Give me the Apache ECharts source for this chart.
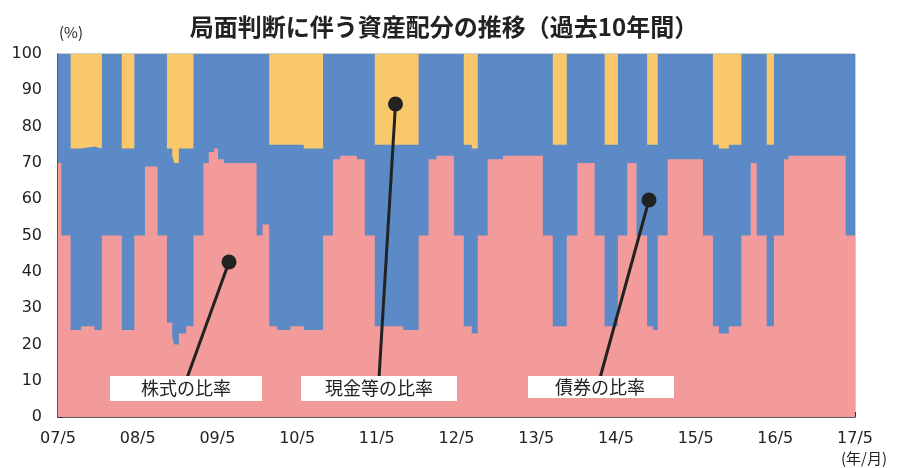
<!DOCTYPE html>
<html>
<head>
<meta charset="utf-8">
<script src="https://cdn.jsdelivr.net/npm/echarts@6/dist/echarts.min.js"></script>
<style>
html,body{margin:0;padding:0;background:#fff;}
#chart{width:897px;height:468px;}
</style>
</head>
<body>
<div id="chart"></div>
<script>
// months elapsed since 2007/5 (breakpoints; each value holds until the next breakpoint)
var months = [0, 0.5, 1.9, 3.5, 5.5, 6.6, 9.6, 11.5, 13.1, 15.0, 16.4, 17.2, 17.5, 18.2, 19.3, 20.4,
  21.9, 22.7, 23.5, 24.1, 25.0, 29.9, 30.8, 31.8, 33.0, 35.0, 37.0, 39.9, 41.4, 42.5, 45.0, 46.2,
  47.7, 52.0, 54.3, 55.8, 57.0, 59.6, 61.1, 62.3, 63.2, 64.7, 67.0, 71.0, 73.0, 74.5, 76.6, 78.2,
  80.8, 82.3, 84.3, 85.7, 87.1, 88.7, 89.6, 90.3, 91.8, 97.1, 98.6, 99.5, 101.0, 102.9, 104.3,
  105.2, 106.7, 107.8, 109.3, 110.0, 118.6, 120];
var stock = [70, 50, 24, 25, 24, 50, 24, 50, 69, 50, 26, 22, 20, 23, 25, 50,
  70, 73, 74, 71, 70, 50, 53, 25, 24, 25, 24, 50, 71, 72, 71, 50,
  25, 24, 50, 71, 72, 50, 25, 23, 50, 71, 72, 72, 50, 25, 50, 70,
  50, 25, 50, 70, 50, 25, 24, 50, 71, 50, 25, 23, 25, 50, 70,
  50, 25, 50, 71, 72, 50, 50];
var bond = [30, 50, 50, 49.5, 50, 50, 50, 50, 31, 50, 48, 50, 50, 51, 49, 50,
  30, 27, 26, 29, 30, 50, 47, 50, 51, 50, 50, 50, 29, 28, 29, 50,
  50, 51, 50, 29, 28, 50, 50, 51, 50, 29, 28, 28, 50, 50, 50, 30,
  50, 50, 50, 30, 50, 50, 51, 50, 29, 50, 50, 51, 50, 50, 30,
  50, 50, 50, 29, 28, 50, 50];
var cash = [0, 0, 26, 25.5, 26, 0, 26, 0, 0, 0, 26, 28, 30, 26, 26, 0,
  0, 0, 0, 0, 0, 0, 0, 25, 25, 25, 26, 0, 0, 0, 0, 0,
  25, 25, 0, 0, 0, 0, 25, 26, 0, 0, 0, 0, 0, 25, 0, 0,
  0, 25, 0, 0, 0, 25, 25, 0, 0, 0, 25, 26, 25, 0, 0,
  0, 25, 0, 0, 0, 0, 0];
var xTickLabels = ['07/5','08/5','09/5','10/5','11/5','12/5','13/5','14/5','15/5','16/5','17/5'];
var seriesNames = ['株式', '債券', '現金等'];

// cumulative tops (stock, stock+bond, stock+bond+cash)
function cum(level){
  return months.map(function(m, i){
    var v = stock[i];
    if (level > 0) v += bond[i];
    if (level > 1) v += cash[i];
    return [m, v];
  });
}

var colors = ['#F39A9A', '#5B8AC7', '#F8C86B'];
var chart = echarts.init(document.getElementById('chart'), null, {renderer:'canvas'});
var numFont = '"DejaVu Sans", Verdana, sans-serif';
var jpFont = '"Noto Sans CJK JP", sans-serif';

function mkSeries(name, data, color, z){
  return {
    name: name, type: 'line', step: 'end', z: z,
    data: data, showSymbol: false, symbol: 'none',
    lineStyle: {width: 0}, areaStyle: {color: color, opacity: 1, origin: 'start'},
    itemStyle: {color: color}, silent: true, animation: false
  };
}

chart.setOption({
  animation: false,
  title: {
    text: '局面判断に伴う資産配分の推移（過去10年間）',
    left: 439, top: 10, textAlign: 'center',
    textStyle: {fontFamily: jpFont, fontSize: 24, fontWeight: 'bold', color: '#222'}
  },
  grid: {left: 58, right: 42, top: 54, bottom: 51, show: true, borderColor: '#999', borderWidth: 1},
  xAxis: {
    type: 'value', min: 0, max: 120, interval: 12,
    axisLine: {show: true, lineStyle: {color: '#333', width: 1.5}},
    axisTick: {show: true, inside: true, length: 5, lineStyle: {color: '#333'}},
    splitLine: {show: false},
    axisLabel: {
      margin: 14, color: '#222', fontSize: 16, fontFamily: numFont,
      formatter: function(v){ return xTickLabels[Math.round(v/12)]; }
    }
  },
  yAxis: {
    type: 'value', min: 0, max: 100, interval: 10,
    axisLine: {show: true, lineStyle: {color: '#333', width: 1.5}},
    axisTick: {show: true, inside: true, length: 5, lineStyle: {color: '#333'}},
    splitLine: {show: false},
    axisLabel: {margin: 16, color: '#222', fontSize: 16, fontFamily: numFont}
  },
  series: [
    mkSeries(seriesNames[2], cum(2), colors[2], 2),
    mkSeries(seriesNames[1], cum(1), colors[1], 3),
    mkSeries(seriesNames[0], cum(0), colors[0], 4)
  ],
  graphic: [
    {type: 'text', left: 59, top: 25, z: 100, style: {text: '(%)', font: '15px ' + jpFont, fill: '#222'}},
    {type: 'text', left: 841, top: 451, z: 100, style: {text: '(年/月)', font: '15px ' + jpFont, fill: '#222'}},
    // callouts
    {type: 'line', z: 100, shape: {x1: 229, y1: 262, x2: 187, y2: 378}, style: {stroke: '#222', lineWidth: 3}},
    {type: 'circle', z: 101, shape: {cx: 229, cy: 262, r: 7.5}, style: {fill: '#222'}},
    {type: 'line', z: 100, shape: {x1: 395.5, y1: 104, x2: 379, y2: 378}, style: {stroke: '#222', lineWidth: 3}},
    {type: 'circle', z: 101, shape: {cx: 395.5, cy: 104, r: 7.5}, style: {fill: '#222'}},
    {type: 'line', z: 100, shape: {x1: 649, y1: 200, x2: 600, y2: 378}, style: {stroke: '#222', lineWidth: 3}},
    {type: 'circle', z: 101, shape: {cx: 649, cy: 200, r: 7.5}, style: {fill: '#222'}},
    // label boxes
    {type: 'rect', z: 102, shape: {x: 110, y: 376, width: 152, height: 25}, style: {fill: '#fff'}},
    {type: 'text', z: 103, x: 186, y: 388.5, style: {text: '株式の比率', font: '18px ' + jpFont, fill: '#222', textAlign: 'center', textVerticalAlign: 'middle'}},
    {type: 'rect', z: 102, shape: {x: 301, y: 376, width: 156, height: 25}, style: {fill: '#fff'}},
    {type: 'text', z: 103, x: 379, y: 388.5, style: {text: '現金等の比率', font: '18px ' + jpFont, fill: '#222', textAlign: 'center', textVerticalAlign: 'middle'}},
    {type: 'rect', z: 102, shape: {x: 528, y: 376, width: 146, height: 22}, style: {fill: '#fff'}},
    {type: 'text', z: 103, x: 600, y: 387, style: {text: '債券の比率', font: '18px ' + jpFont, fill: '#222', textAlign: 'center', textVerticalAlign: 'middle'}}
  ]
});
</script>
</body>
</html>
